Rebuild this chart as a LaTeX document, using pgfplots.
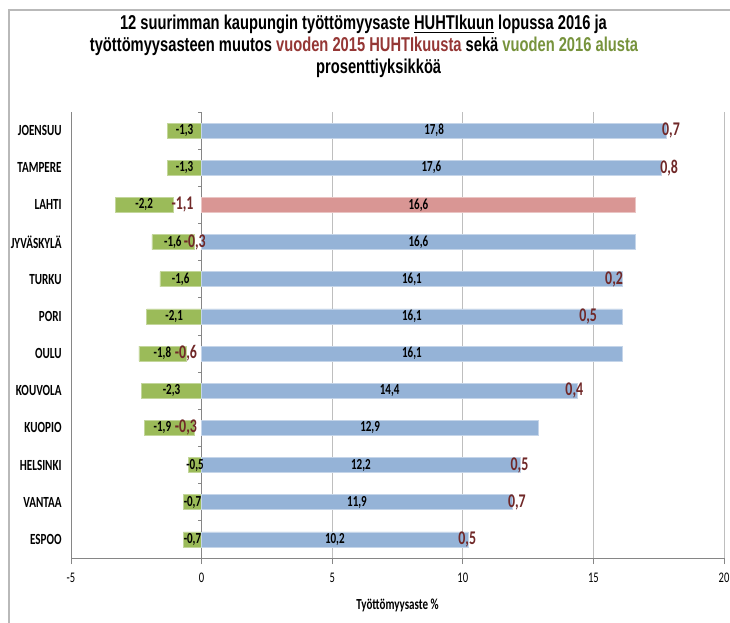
\documentclass[border=0pt]{standalone}
\usepackage{fontspec}
\usepackage{pgfplots}
\pgfplotsset{compat=1.18}
\usepackage{pgfplotstable}
\setmainfont{Carlito}
\newfontfamily\titlefont[FakeStretch=0.735]{Liberation Sans}
\newfontfamily\narrowfont[FakeStretch=0.72]{Carlito}

\definecolor{barblue}{RGB}{149,179,215}
\definecolor{barred}{RGB}{217,150,148}
\definecolor{bargreen}{RGB}{155,187,89}
\definecolor{darkred}{RGB}{112,40,40}
\definecolor{titlered}{RGB}{149,55,53}
\definecolor{titlegreen}{RGB}{119,147,60}
\definecolor{gridgray}{RGB}{190,190,190}
\definecolor{axisgray}{RGB}{134,134,134}

% pos: 12 = JOENSUU (top) ... 1 = ESPOO (bottom)
% rate: unemployment %, start: change since start of 2016,
% apr: change since April 2015, neg: negative part of apr,
% gx: label position of start, lx: label position of apr
\pgfplotstableread{
pos rate start apr neg gx lx
12 17.8 -1.3 0.7 0 -0.65 17.97
11 17.6 -1.3 0.8 0 -0.65 17.9
10 16.6 -2.2 -1.1 -1.1 -2.2 -0.73
9 16.6 -1.6 -0.3 -0.3 -1.1 -0.26
8 16.1 -1.6 0.2 0 -0.8 15.79
7 16.1 -2.1 0.5 0 -1.05 14.8
6 16.1 -1.8 -0.6 -0.6 -1.5 -0.6
5 14.4 -2.3 0.4 0 -1.15 14.27
4 12.9 -1.9 -0.3 -0.3 -1.5 -0.6
3 12.2 -0.5 0.5 0 -0.25 12.17
2 11.9 -0.7 0.7 0 -0.35 12.07
1 10.2 -0.7 0.5 0 -0.35 10.17
}\citydata

\pgfplotsset{common/.style={at={(53.25pt,48pt)}, anchor=south west,
  scale only axis, width=489.75pt, height=334.5pt,
  xmin=-5, xmax=20, ymin=0.5, ymax=12.5}}

\begin{document}
\begin{tikzpicture}
\useasboundingbox (0,0) rectangle (547.5pt,466.5pt);
\fill[white] (0,0) rectangle (547.5pt,466.5pt);
\draw[gray!55, line width=0.8pt] (6.75pt,-5pt) -- (6.75pt,459pt) -- (560pt,459pt);

% title
\node[anchor=base, font=\titlefont\bfseries\fontsize{15}{16}\selectfont] at (272.6pt,444pt)
  {12 suurimman kaupungin työttömyysaste \underline{HUHTIkuun} lopussa 2016 ja};
\node[anchor=base, font=\titlefont\bfseries\fontsize{15}{16}\selectfont] at (273pt,427.5pt)
  {työttömyysasteen muutos \textcolor{titlered}{vuoden 2015 HUHTIkuusta} sekä \textcolor{titlegreen}{vuoden 2016 alusta}};
\node[anchor=base, font=\titlefont\bfseries\fontsize{15}{16}\selectfont] at (284pt,411pt)
  {prosenttiyksikköä};

% green bars: change since start of 2016, stacked after the negative part of the April change
\begin{axis}[common, hide axis, xbar stacked, bar width=11.25pt]
\addplot[draw=none, fill=none] table[x=neg, y=pos]{\citydata};
\addplot[fill=bargreen, draw=bargreen!60!white, line width=0.4pt] table[x=start, y=pos]{\citydata};
\end{axis}

\begin{axis}[common,
  axis lines*=left, axis line style={axisgray, line width=0.6pt},
  xtick={-5,0,5,10,15,20}, xmajorgrids, grid style={gridgray, line width=0.6pt},
  xtick align=outside, xtick style={axisgray, line width=0.6pt}, major tick length=4.5pt,
  ytick={1,...,12},
  yticklabels={ESPOO,VANTAA,HELSINKI,KUOPIO,KOUVOLA,OULU,PORI,TURKU,JYVÄSKYLÄ,LAHTI,TAMPERE,JOENSUU},
  ytick style={draw=none},
  yticklabel style={font=\narrowfont\bfseries\fontsize{11.6}{12}\selectfont, xshift=-3.5pt},
  xticklabel style={font=\narrowfont\fontsize{11}{12}\selectfont, yshift=-3pt},
  /pgf/number format/assume math mode=true,
  xlabel={Työttömyysaste \%},
  xlabel style={font=\narrowfont\bfseries\fontsize{11.5}{12}\selectfont, yshift=-5.5pt},
  every node near coord/.append style={anchor=center},
]
\draw[axisgray, line width=0.6pt] (axis cs:0,0.5) -- (axis cs:0,12.5);
\pgfplotsinvokeforeach{0.5,1.5,2.5,3.5,4.5,5.5,6.5,7.5,8.5,9.5,10.5,11.5,12.5}{
  \draw[axisgray, line width=0.6pt] (axis cs:0,#1) -- (axis cs:-0.13,#1);
}
% blue bars (all except LAHTI)
\addplot[xbar, bar width=11.25pt, bar shift=0pt, fill=barblue, draw=barblue!55!white, line width=0.4pt]
  coordinates {(17.8,12) (17.6,11) (16.6,9) (16.1,8) (16.1,7) (16.1,6) (14.4,5) (12.9,4) (12.2,3) (11.9,2) (10.2,1)};
% LAHTI highlighted
\addplot[xbar, bar width=11.25pt, bar shift=0pt, fill=barred, draw=barred!55!white, line width=0.4pt]
  coordinates {(16.6,10)};
% value labels of the rate, centred in the bars
\addplot[only marks, mark=none, point meta=explicit,
  nodes near coords={\pgfmathprintnumber[fixed, fixed zerofill, precision=1, use comma]{\pgfplotspointmeta}},
  nodes near coords style={font=\narrowfont\bfseries\fontsize{11.5}{12}\selectfont, text=black}]
  table[x expr=\thisrow{rate}/2, y=pos, meta=rate]{\citydata};
% value labels of the change since start of 2016
\addplot[only marks, mark=none, point meta=explicit,
  nodes near coords={\pgfmathprintnumber[fixed, fixed zerofill, precision=1, use comma]{\pgfplotspointmeta}},
  nodes near coords style={font=\narrowfont\bfseries\fontsize{11.5}{12}\selectfont, text=black}]
  table[x=gx, y=pos, meta=start]{\citydata};
% labels of the change since April 2015
\addplot[only marks, mark=none, point meta=explicit,
  nodes near coords={\pgfmathprintnumber[fixed, fixed zerofill, precision=1, use comma]{\pgfplotspointmeta}},
  nodes near coords style={font=\narrowfont\bfseries\fontsize{14.5}{15}\selectfont, text=darkred}]
  table[x=lx, y=pos, meta=apr]{\citydata};
\end{axis}
\end{tikzpicture}
\end{document}
